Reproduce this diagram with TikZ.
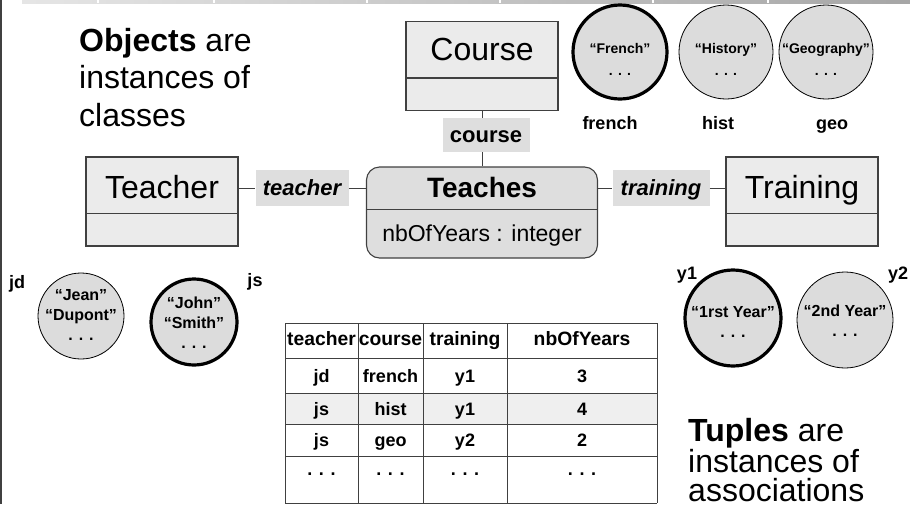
\documentclass[tikz,border=0pt]{standalone}
\usepackage{fontspec}
\setmainfont{Liberation Sans}
\usetikzlibrary{calc}
\definecolor{boxfill}{HTML}{EBEBEB}
\definecolor{assocfill}{HTML}{DEDEDE}
\definecolor{objfill}{HTML}{DCDCDC}
\definecolor{linegray}{HTML}{404040}
\definecolor{rowfill}{HTML}{EFEFEF}
\newcommand\pxsize[1]{\fontsize{#1}{#1}\selectfont}
\begin{document}
\begin{tikzpicture}[x=1pt,y=-1pt,
  classbox/.style={draw=linegray, fill=boxfill, line width=1.1pt, minimum width=152pt, minimum height=89pt, inner sep=0pt},
  assocbox/.style={draw=linegray, fill=assocfill, line width=1.1pt, rounded corners=13pt, inner sep=0pt},
  divline/.style={draw=linegray, line width=1.1pt},
  conn/.style={draw=linegray, line width=0.9pt},
  lbl/.style={fill=assocfill, inner sep=0pt, font=\pxsize{22}\bfseries},
  clsname/.style={font=\pxsize{32}, inner sep=0pt, anchor=base},
  objthin/.style={circle, draw=black, fill=objfill, line width=0.8pt, inner sep=0pt},
  objthick/.style={circle, draw=black, fill=objfill, line width=3.2pt, inner sep=0pt},
  objtxt/.style={font=\pxsize{16}\bfseries, inner sep=0pt, anchor=base},
  toptxt/.style={font=\pxsize{14}\bfseries, inner sep=0pt, anchor=base},
  objname/.style={font=\pxsize{18}\bfseries, inner sep=0pt, anchor=base},
  bigtxt/.style={font=\pxsize{32}, anchor=base west, inner sep=0pt},
  cell/.style={font=\pxsize{18}\bfseries, inner sep=0pt, anchor=base},
  hcell/.style={font=\pxsize{19.3}\bfseries, inner sep=0pt, anchor=base},
  tline/.style={draw=linegray, line width=0.9pt}
]
\useasboundingbox (0,0) rectangle (910,504);
% top band and left edge
\shade[left color=black!10, right color=black!35] (22,0) rectangle (910,3);
\foreach \sx in {98,214,367,500,653,768} \fill[white] (\sx-0.7,0) rectangle (\sx+0.7,3);
\fill[linegray] (0,0) rectangle (1.5,504);

% captions
\node[bigtxt] (cap1a) at (79,51) {\textbf{Objects} are};
\node[bigtxt] (cap1b) at (79,88) {instances of};
\node[bigtxt] (cap1c) at (79,126) {classes};
\node[bigtxt] (cap2a) at (688,441) {\textbf{Tuples} are};
\node[bigtxt] (cap2b) at (688,472) {instances of};
\node[bigtxt] (cap2c) at (688,501) {associations};

% classes
\node[classbox] (course) at (482,66) {};
\draw[divline] ($(course.north west)+(0,57)$) -- ($(course.north east)+(0,57)$);
\node[clsname] (coursename) at (482,60) {Course};

\node[classbox] (teacher) at (162,201.5) {};
\draw[divline] ($(teacher.north west)+(0,57)$) -- ($(teacher.north east)+(0,57)$);
\node[clsname] (teachername) at (162,198) {Teacher};

\node[classbox] (training) at (802,201.5) {};
\draw[divline] ($(training.north west)+(0,57)$) -- ($(training.north east)+(0,57)$);
\node[clsname] (trainingname) at (802,198) {Training};

% association
\node[assocbox, minimum width=231pt, minimum height=91pt] (teaches) at (482,212.5) {};
\draw[divline] ($(teaches.north west)+(0,43)$) -- ($(teaches.north east)+(0,43)$);
\node[font=\pxsize{28}\bfseries, inner sep=0pt, anchor=base] (teachesname) at (482,197) {Teaches};
\node[font=\pxsize{23}, inner sep=0pt, anchor=base] (teachesattr) at (482,241) {nbOfYears : integer};

% role labels
\node[lbl, minimum width=87pt, minimum height=34pt] (lcourse) at (486,135) {};
\node[lbl, anchor=base] at (486,142) {course};
\node[lbl, minimum width=93pt, minimum height=36pt] (lteacher) at (302,188) {};
\node[lbl, anchor=base] at (302,195) {\itshape teacher};
\node[lbl, minimum width=97pt, minimum height=36pt] (ltraining) at (661,188) {};
\node[lbl, anchor=base] at (661,195) {\itshape training};

\draw[conn] (course.south) -- (course.south |- lcourse.north);
\draw[conn] (lcourse.south -| teaches.north) -- (teaches.north);
\draw[conn] (lteacher.west -| teacher.east) -- (lteacher.west);
\draw[conn] (lteacher.east) -- (lteacher.east -| teaches.west);
\draw[conn] (teaches.east |- ltraining.west) -- (ltraining.west);
\draw[conn] (ltraining.east) -- (ltraining.east -| training.west);

% course objects
\node[objthick, minimum size=94pt] (ofrench) at (620,52) {};
\node[toptxt] at (620,53) {“French”};
\node[toptxt] at (620,75) {. . .};
\node[objthin, minimum size=94pt] (ohist) at (726,52) {};
\node[toptxt] at (726,53) {“History”};
\node[toptxt] at (726,75) {. . .};
\node[objthin, minimum size=94pt] (ogeo) at (826,52) {};
\node[toptxt] at (826,53) {“Geography”};
\node[toptxt] at (826,75) {. . .};
\node[objname] (nfrench) at (610,129) {french};
\node[objname] (nhist) at (718,129) {hist};
\node[objname] (ngeo) at (832,129) {geo};

% teacher objects
\node[objthin, minimum size=86pt] (ojd) at (81,316) {};
\node[objtxt] at (81,300) {“Jean”};
\node[objtxt] at (81,320) {“Dupont”};
\node[objtxt] at (81,340) {. . .};
\node[objthick, minimum size=86pt] (ojs) at (194,322) {};
\node[objtxt] at (194,308) {“John”};
\node[objtxt] at (194,328) {“Smith”};
\node[objtxt] at (194,348) {. . .};
\node[objname] (njd) at (17,288) {jd};
\node[objname] (njs) at (255,286) {js};

% training objects
\node[objthick, minimum size=96pt] (oy1) at (733,318) {};
\node[objtxt] at (733,317) {“1rst Year”};
\node[objtxt] at (733,337) {. . .};
\node[objthin, minimum size=96pt] (oy2) at (845,320) {};
\node[objtxt] at (845,316) {“2nd Year”};
\node[objtxt] at (845,336) {. . .};
\node[objname] (ny1) at (687,279) {y1};
\node[objname] (ny2) at (898,279) {y2};

% table
\fill[rowfill] (285,393) rectangle (657,424);
\foreach \ty in {323,358,393,424,456,503} \draw[tline] (285,\ty) -- (657,\ty);
\foreach \tx in {285,358,423,507,657} \draw[tline] (\tx,323) -- (\tx,503);
\node[hcell] at (321.5,345) {teacher};
\node[hcell] at (390.5,345) {course};
\node[hcell] at (465,345) {training};
\node[hcell] at (582,345) {nbOfYears};
\foreach \r/\ty/\a/\b/\c/\d in {1/382/jd/french/y1/3, 2/415/js/hist/y1/4, 3/446/js/geo/y2/2} {
  \node[cell] at (321.5,\ty) {\a};
  \node[cell] at (390.5,\ty) {\b};
  \node[cell] at (465,\ty) {\c};
  \node[cell] at (582,\ty) {\d};
}
\foreach \tx in {321.5,390.5,465,582} \node[cell] at (\tx,475) {. . .};
\end{tikzpicture}
\end{document}
